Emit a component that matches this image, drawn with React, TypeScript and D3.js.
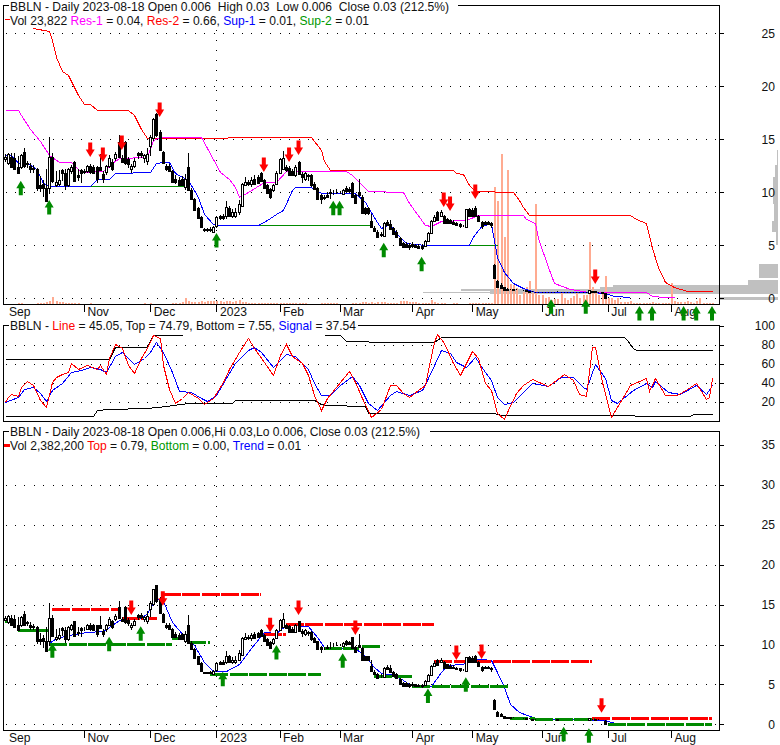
import * as d3 from "d3";

const dayCount = 225;
const monthLabels = ["Nov", "Dec", "2023", "Feb", "Mar", "Apr", "May", "Jun", "Jul", "Aug"];
const monthDays = [25, 46, 67, 87, 106, 129, 148, 170, 191, 211];
const priceTicks = [0, 5, 10, 15, 20, 25];
const lowerTicks = [0, 5, 10, 15, 20, 25, 30, 35];
const oscTicks = [20, 40, 60, 80, 100];

const opens = [
  13.1, 12.8, 13.3, 13.2, 12.4, 12.4, 13.8, 12.8, 12.5, 12.3,
  12.2, 10.7, 10.8, 10.4, 10.4, 13.3, 10.7, 10.8, 12.1, 11.8,
  10.7, 12.0, 12.9, 11.6, 12.1, 12.0, 12.0, 12.5, 12.4, 12.4,
  12.4, 11.7, 11.9, 12.5, 12.9, 13.2, 14.7, 13.2, 14.7, 13.1,
  12.2, 12.5, 13.7, 13.7, 13.2, 13.0, 14.4, 15.1, 17.4, 15.7,
  13.8, 12.5, 12.5, 12.0, 11.3, 11.2, 11.3, 10.5, 12.4, 10.2,
  9.4, 8.5, 7.7, 6.5, 6.5, 6.5, 6.3, 6.8, 7.8, 7.8,
  7.8, 8.5, 7.8, 7.8, 8.1, 8.7, 10.7, 11.0, 10.8, 11.3,
  11.4, 11.8, 11.2, 10.7, 10.3, 10.2, 10.8, 11.8, 12.2, 12.4,
  12.3, 12.0, 11.6, 12.9, 11.7, 11.3, 11.5, 11.6, 10.8, 10.4,
  9.7, 9.6, 9.7, 10.0, 9.9, 9.95, 9.9, 9.8, 10.4, 10.3,
  10.9, 9.7, 10.0, 9.6, 8.5, 8.5, 7.3, 6.6, 6.3, 6.0,
  5.9, 7.2, 7.0, 6.6, 6.3, 5.7, 5.2, 5.15, 5.0, 5.1,
  5.0, 4.95, 4.95, 4.95, 5.4, 6.2, 7.3, 8.1, 7.8, 7.8,
  7.5, 7.35, 7.2, 7.1, 7.0, 6.85, 6.7, 8.4, 8.3, 8.5,
  7.8, 7.2, 7.2, 7.2, 7.1, 3.1, 1.6, 1.3, 1.07, 0.9,
  0.87, 0.84, 0.82, 0.8, 0.77, 0.74, 0.7, 0.64, 0.6, 0.58,
  0.57, 0.56, 0.56, 0.56, 0.57, 0.62, 0.57, 0.56, 0.56, 0.56,
  0.56, 0.56, 0.56, 0.57, 0.56, 0.5, 0.68, 0.65, 0.6, 0.55,
  0.47, 0.1, 0.05, 0.05, 0.05, 0.05, 0.04, 0.04, 0.04, 0.04,
  0.04, 0.04, 0.04, 0.04, 0.04, 0.04, 0.04, 0.04, 0.04, 0.04,
  0.03, 0.03, 0.03, 0.03, 0.03, 0.03, 0.03, 0.03, 0.03, 0.03,
  0.03, 0.03, 0.03, 0.03, 0.006,
];
const highs = [
  13.6, 13.7, 13.7, 13.7, 13.4, 13.6, 14.2, 13.0, 12.8, 12.6,
  12.3, 11.5, 11.2, 12.2, 15.2, 13.7, 12.0, 12.1, 12.2, 12.2,
  12.3, 12.6, 13.0, 12.2, 12.2, 12.2, 12.6, 12.7, 12.6, 12.5,
  13.6, 12.0, 12.6, 13.5, 13.1, 13.8, 15.4, 13.5, 14.8, 13.3,
  12.7, 13.2, 13.8, 13.9, 13.6, 14.2, 15.4, 17.0, 17.5, 15.9,
  13.9, 12.7, 12.7, 12.1, 11.6, 11.4, 11.5, 11.7, 13.7, 10.4,
  9.5, 8.6, 7.8, 6.6, 6.6, 6.7, 6.8, 7.8, 7.9, 8.0,
  9.2, 8.7, 8.4, 8.5, 9.3, 10.9, 11.4, 11.2, 11.4, 11.6,
  11.6, 11.9, 11.3, 10.8, 10.4, 10.8, 12.0, 13.2, 13.9, 12.6,
  12.5, 12.2, 12.6, 13.0, 11.9, 11.9, 11.7, 11.7, 11.0, 10.5,
  9.8, 9.7, 9.9, 10.3, 10.2, 10.3, 10.1, 10.3, 10.6, 10.5,
  11.0, 9.8, 11.3, 9.7, 8.6, 8.6, 8.0, 6.8, 6.4, 6.3,
  7.2, 7.4, 7.4, 6.7, 6.4, 5.8, 5.3, 5.3, 5.2, 5.3,
  5.1, 5.1, 5.1, 5.5, 6.3, 7.4, 7.9, 8.2, 8.3, 7.9,
  7.6, 7.5, 7.4, 7.2, 7.1, 6.9, 8.4, 8.5, 8.5, 8.7,
  7.9, 7.3, 7.3, 7.3, 7.2, 3.2, 1.7, 1.4, 1.1, 0.95,
  0.9, 0.87, 0.85, 0.83, 0.8, 0.77, 0.73, 0.67, 0.63, 0.6,
  0.59, 0.58, 0.58, 0.58, 0.6, 0.65, 0.6, 0.58, 0.58, 0.58,
  0.58, 0.58, 0.58, 0.6, 0.58, 0.78, 0.7, 0.67, 0.62, 0.57,
  0.5, 0.12, 0.07, 0.07, 0.07, 0.07, 0.06, 0.06, 0.06, 0.06,
  0.06, 0.06, 0.06, 0.06, 0.06, 0.06, 0.06, 0.06, 0.06, 0.06,
  0.05, 0.05, 0.05, 0.05, 0.05, 0.05, 0.05, 0.05, 0.05, 0.05,
  0.05, 0.05, 0.05, 0.05, 0.03,
];
const lows = [
  12.9, 12.6, 12.3, 12.1, 11.7, 12.2, 12.3, 12.3, 11.8, 11.8,
  10.1, 10.0, 9.6, 9.2, 9.8, 10.9, 10.5, 10.6, 11.1, 10.2,
  10.5, 11.7, 11.0, 11.1, 10.9, 11.7, 11.8, 11.7, 11.7, 10.9,
  12.0, 10.9, 11.6, 12.3, 12.0, 13.0, 13.2, 12.8, 12.6, 12.3,
  11.8, 12.3, 13.1, 13.2, 12.8, 12.6, 13.4, 14.8, 15.2, 13.9,
  12.7, 12.0, 11.9, 10.9, 10.8, 10.6, 10.6, 10.2, 10.1, 9.3,
  8.2, 7.5, 6.6, 6.3, 6.3, 6.3, 6.2, 6.6, 7.4, 7.4,
  7.5, 7.7, 7.6, 7.6, 7.9, 8.6, 10.6, 10.6, 10.5, 10.7,
  10.8, 11.0, 10.3, 9.8, 9.4, 10.0, 10.7, 11.7, 12.1, 11.9,
  11.5, 11.5, 11.4, 11.6, 10.9, 11.1, 11.1, 10.5, 10.2, 9.3,
  8.9, 9.3, 9.5, 9.4, 9.7, 9.8, 9.8, 9.7, 10.0, 9.9,
  9.5, 8.9, 9.6, 8.0, 7.9, 7.9, 6.6, 6.3, 5.7, 5.8,
  5.8, 6.8, 6.4, 6.0, 5.7, 5.0, 4.8, 4.7, 4.6, 4.7,
  4.7, 4.7, 4.6, 4.8, 5.3, 6.1, 7.2, 7.3, 7.7, 7.0,
  7.0, 7.0, 6.9, 6.8, 6.6, 6.7, 6.6, 7.7, 7.7, 7.7,
  7.2, 6.5, 6.9, 6.9, 6.6, 1.8, 1.0, 0.95, 0.75, 0.7,
  0.8, 0.78, 0.76, 0.74, 0.71, 0.68, 0.62, 0.56, 0.54, 0.52,
  0.52, 0.52, 0.52, 0.52, 0.53, 0.58, 0.53, 0.52, 0.52, 0.52,
  0.52, 0.52, 0.52, 0.53, 0.52, 0.48, 0.6, 0.58, 0.53, 0.48,
  0.0, 0.06, 0.01, 0.01, 0.01, 0.01, 0.01, 0.01, 0.01, 0.01,
  0.01, 0.01, 0.01, 0.01, 0.01, 0.01, 0.01, 0.01, 0.01, 0.01,
  0.01, 0.01, 0.01, 0.01, 0.01, 0.01, 0.01, 0.01, 0.01, 0.01,
  0.01, 0.01, 0.01, 0.01, 0.006,
];
const closes = [
  13.3, 13.6, 12.4, 12.2, 11.8, 13.5, 12.5, 12.7, 12.2, 12.2,
  10.4, 10.4, 10.4, 9.2, 13.3, 11.1, 11.0, 11.2, 11.8, 10.7,
  12.2, 12.4, 11.1, 11.4, 11.8, 11.9, 12.5, 11.9, 11.8, 11.3,
  12.1, 11.3, 12.5, 13.2, 12.2, 13.6, 13.3, 12.9, 12.8, 12.7,
  12.5, 13.0, 13.5, 13.5, 13.5, 13.6, 15.2, 16.9, 15.4, 14.0,
  12.8, 12.2, 12.0, 11.0, 11.0, 10.7, 10.7, 11.3, 10.2, 9.4,
  8.3, 7.6, 6.7, 6.4, 6.4, 6.4, 6.7, 7.7, 7.6, 7.6,
  8.6, 7.8, 8.1, 8.1, 8.9, 10.8, 11.0, 10.8, 11.2, 10.8,
  10.9, 11.1, 10.4, 9.9, 9.6, 10.7, 11.8, 13.1, 13.2, 12.1,
  11.6, 11.6, 12.4, 11.7, 11.4, 11.8, 11.6, 10.7, 10.3, 9.4,
  9.4, 9.5, 9.6, 9.9, 9.95, 9.9, 9.95, 10.2, 10.1, 10.1,
  9.6, 9.0, 9.7, 8.05, 8.05, 8.05, 6.7, 6.35, 5.8, 6.1,
  7.1, 6.9, 6.5, 6.1, 5.8, 5.05, 4.85, 4.8, 4.85, 4.95,
  4.85, 4.75, 4.75, 5.4, 6.2, 7.3, 7.7, 7.4, 8.1, 7.1,
  7.1, 7.1, 7.05, 6.9, 6.8, 6.8, 8.4, 7.8, 7.8, 7.8,
  7.3, 6.8, 7.0, 7.0, 6.95, 1.9, 1.07, 1.0, 0.8, 0.75,
  0.84, 0.82, 0.8, 0.77, 0.74, 0.7, 0.64, 0.6, 0.58, 0.56,
  0.56, 0.55, 0.55, 0.55, 0.55, 0.6, 0.55, 0.55, 0.55, 0.55,
  0.55, 0.55, 0.55, 0.55, 0.55, 0.75, 0.62, 0.6, 0.55, 0.5,
  0.02, 0.08, 0.04, 0.04, 0.04, 0.04, 0.03, 0.03, 0.03, 0.03,
  0.03, 0.03, 0.03, 0.03, 0.03, 0.03, 0.03, 0.03, 0.03, 0.03,
  0.03, 0.03, 0.03, 0.03, 0.03, 0.03, 0.03, 0.03, 0.03, 0.03,
  0.03, 0.03, 0.03, 0.03, 0.03,
];
const volumes = [
  0, 0, 0, 0, 1, 1, 0, 0, 0, 0,
  1, 1, 1, 2, 3, 7, 3, 2, 2, 1,
  1, 1, 1, 1, 0, 0, 0, 1, 0, 0,
  0, 0, 0, 0, 0, 0, 0, 0, 0, 0,
  0, 0, 0, 0, 1, 0, 1, 0, 0, 0,
  0, 0, 0, 1, 1, 1, 2, 6, 3, 2,
  2, 2, 3, 2, 3, 3, 3, 3, 3, 2,
  3, 3, 2, 3, 4, 2, 2, 1, 1, 1,
  1, 1, 1, 1, 1, 1, 1, 1, 1, 1,
  1, 1, 1, 1, 1, 1, 0, 0, 0, 0,
  1, 1, 1, 1, 1, 1, 0, 0, 0, 0,
  1, 1, 1, 2, 2, 1, 2, 1, 2, 2,
  2, 1, 1, 1, 1, 3, 3, 3, 2, 2,
  2, 1, 1, 1, 1, 4, 2, 1, 1, 1,
  0, 0, 1, 1, 0, 0, 0, 1, 1, 1,
  1, 1, 1, 1, 1, 117, 103, 150, 67, 134,
  20, 19, 16, 9, 12, 17, 23, 11, 100, 9,
  9, 6, 7, 4, 5, 5, 11, 6, 4, 6,
  8, 11, 6, 9, 9, 62, 17, 11, 9, 12,
  28, 6, 6, 4, 6, 2, 2, 2, 3, 1,
  1, 1, 1, 1, 1, 2, 1, 1, 1, 1,
  1, 21, 3, 2, 2, 2, 3, 2, 1, 3,
  6, 1, 1, 1, 1,
];

const res2Days = [9, 14, 15, 16, 18, 20, 23, 25, 27, 29, 39, 41, 43, 45, 97, 100, 101, 103, 142, 143, 145, 147, 149, 161, 163, 164, 166, 198, 200, 203, 205, 207, 209, 212, 216, 224];
const res2Values = [25.5, 25.2, 24.4, 22.8, 21.4, 21.1, 19.2, 18.3, 18.3, 17.8, 17.8, 17.3, 16, 15.15, 15.2, 14, 13, 12.1, 12.1, 11.85, 11.7, 10.7, 10.1, 10.05, 9.3, 8.6, 7.9, 7.9, 7.45, 7.07, 4.7, 3, 1.57, 1.1, 0.69, 0.69];
const res1Days = [0, 4, 5, 8, 11, 14, 17, 21, 24, 31, 34, 36, 45, 47, 49, 62, 64, 68, 71, 73, 74, 77, 82, 86, 89, 108, 110, 115, 126, 128, 133, 135, 138, 146, 150, 164, 165, 168, 169, 172, 174, 179, 185, 203, 205, 209, 212];
const res1Values = [17.8, 17.8, 17.3, 16, 14.8, 13.5, 12.85, 12.85, 11.95, 12, 12.75, 13.2, 13.35, 14.9, 15.2, 15.2, 14.2, 11.95, 11.3, 10.5, 9.6, 10.05, 11, 11, 12, 12, 11.6, 10.1, 10.05, 9, 6.9, 6.85, 7.3, 7.4, 7.9, 7.9, 7.45, 7.1, 5.7, 3, 1.47, 0.85, 0.62, 0.62, 0.25, 0.1, 0.1];
const sup1Days = [0, 2, 3, 4, 8, 10, 12, 14, 27, 29, 33, 35, 46, 48, 50, 52, 54, 58, 61, 63, 66, 67, 80, 83, 86, 88, 91, 92, 97, 100, 111, 114, 118, 119, 122, 124, 127, 133, 147, 148, 151, 154, 156, 158, 161, 164, 168, 185, 190, 193, 198];
const sup1Values = [13.5, 13.5, 13.2, 12.75, 12.67, 12.1, 10.85, 10.6, 10.6, 11.3, 11.3, 11.8, 11.9, 12.75, 12.85, 12.85, 11.8, 11.15, 9.6, 8, 7, 6.9, 6.9, 7.4, 8, 8.3, 10.2, 10.5, 10.5, 9.95, 9.95, 9.1, 7.2, 6.65, 7, 6.15, 5.2, 5, 5, 5.7, 6.9, 7, 3.9, 2.5, 1.44, 0.97, 0.62, 0.58, 0.5, 0.25, 0.1];
const sup2Days = [27, 57, 58, 80, 116, 117, 147, 156];
const sup2Values: (number | null)[] = [10.6, 10.6, null, 6.9, 6.9, null, 5, 5];

const redUpperDays = [27, 31, 37, 49, 82, 90, 93, 139, 141, 149, 187];
const redUpperTips = [13.33, 12.86, 13.99, 17.1, 11.92, 12.86, 13.52, 8.61, 8.24, 9.37, 1.35];
const greenUpperDays = [5, 14, 67, 104, 106, 120, 132, 173, 184, 201, 205, 215, 219, 224];
const greenUpperTips = [11.09, 9.27, 6.16, 9.21, 9.21, 5.25, 3.92, -0.09, -0.09, -0.73, -0.73, -0.73, -0.73, -0.73];

const profileTops = [3.24, 1.73, 1.25, 1.06, 0.88, 0.69, 0.59, 0.5, 0.12, 13.99, 12.6, 11.4, 8.9, 7.25, 6.3];
const profileBottoms = [1.92, 1.25, 1.06, 0.88, 0.69, 0.59, 0.5, 0.4, -0.12, 12.6, 11.4, 8.9, 7.25, 6.3, 5.05];
const profileVolumes = [19, 30, 165, 178, 317, 288, 355, 288, 58, 1.5, 3, 5, 4, 6.5, 2];

const lineDays = [0, 1, 2, 4, 5, 7, 9, 11, 13, 15, 16, 18, 20, 21, 23, 26, 29, 30, 32, 33, 35, 37, 39, 41, 43, 45, 47, 49, 50, 52, 54, 56, 58, 61, 63, 66, 69, 71, 74, 77, 79, 82, 85, 87, 89, 91, 94, 96, 98, 100, 102, 106, 109, 111, 113, 116, 119, 122, 124, 126, 128, 131, 133, 134, 136, 137, 139, 142, 144, 146, 148, 150, 152, 154, 156, 158, 159, 162, 164, 167, 172, 177, 180, 182, 184, 186, 187, 189, 192, 195, 198, 203, 204, 206, 209, 213, 216, 219, 222, 223, 224];
const lineValues = [20.4, 25.6, 28, 26, 36, 42, 38, 22, 15, 41, 46, 49.5, 52, 61, 55, 59, 55, 59, 50, 66, 81, 76.5, 59, 51, 66, 76.5, 90.5, 87, 59, 34, 18.6, 24, 31, 24, 17.5, 24, 41, 55, 73, 87, 76.5, 62, 48, 69, 81, 68, 61, 48, 27, 12, 24, 41, 53, 41, 24, 4.6, 13, 38, 38, 30, 25, 33, 38, 54, 83.5, 91.6, 82, 61, 48, 61, 74, 66, 40, 33, 8, 2, 10, 29, 38, 44, 37, 50, 43, 28, 26, 78, 77.5, 41, 4.6, 20, 38, 45, 31.6, 45, 27, 27, 33.7, 40, 23, 25, 45];
const signalDays = [0, 4, 6, 9, 11, 13, 15, 18, 21, 24, 27, 30, 32, 35, 37, 39, 41, 44, 46, 48, 50, 53, 55, 59, 62, 64, 67, 70, 73, 77, 79, 81, 85, 89, 92, 96, 98, 100, 103, 106, 110, 112, 115, 118, 122, 124, 128, 132, 134, 138, 141, 143, 146, 149, 152, 154, 156, 158, 161, 167, 172, 176, 180, 183, 184, 187, 190, 192, 194, 199, 203, 205, 206, 210, 214, 219, 222, 224];
const signalValues = [19.6, 25.6, 33.7, 36, 29, 21, 32.6, 39.6, 52, 54, 56.5, 55, 52, 68, 73, 66, 60, 66, 73, 83, 73, 52, 31.6, 31, 24, 21, 27, 45, 61, 75, 78, 73, 57, 71, 68, 55, 40, 27, 27, 38, 47, 38, 18.6, 11.6, 27, 31.6, 27, 33, 45, 75, 72, 62.5, 56.5, 67, 52, 43, 25.6, 17.5, 20, 40, 37, 46, 46, 36, 33.7, 60, 45, 22, 19, 33, 40, 36, 42.5, 31, 28.4, 38, 28.4, 37.5];
const topDays = [0, 33, 35, 45, 47, 56, 57, 101, 106, 108, 122, 136, 138, 196, 197, 199, 200, 224];
const topValues: (number | null)[] = [65, 65, 78, 78, 90.5, 91, null, 91, 91, 84, 83, 83, 88, 88, 85, 76.5, 75, 74.8];
const bottomDays = [0, 28, 29, 33, 45, 51, 58, 72, 73, 98, 100, 102, 114, 115, 155, 157, 199, 200, 217, 218, 224];
const bottomValues = [5.3, 5.3, 11.6, 12.6, 14, 16, 18.6, 19.3, 22, 22, 17.5, 17, 15.4, 8, 8, 6.3, 6, 5.3, 5.3, 7, 7];

const trendDays = [14, 16, 22, 26, 31, 34, 36, 43, 45, 48, 50, 53, 57, 60, 63, 66, 70, 74, 78, 82, 86, 89, 96, 99, 101, 111, 114, 117, 119, 122, 125, 128, 135, 138, 140, 145, 147, 151, 154, 156, 158, 160, 163, 168, 185, 190, 192, 195];
const trendValues = [10.15, 10.78, 11.28, 11.6, 11.7, 12.45, 13.1, 13.3, 13.9, 15.8, 15.4, 12.86, 11, 9.95, 7.85, 6.7, 6.7, 7.6, 9.5, 11.6, 11.5, 12.5, 12.3, 11, 9.7, 9.5, 8.6, 7.2, 6.4, 6.3, 5.8, 5, 4.85, 6.6, 7.4, 7.5, 8.1, 8.2, 8.1, 6.6, 4.7, 2.6, 1.6, 0.75, 0.55, 0.55, 0.25, 0.1];
const topStarts = [15, 37, 50, 82, 89, 136, 186];
const topEnds = [36, 48, 81, 89, 136, 186, 224];
const topLevels = [14.4, 13.28, 16.3, 11.28, 12.53, 7.85, 0.75];
const bottomStarts = [0, 4, 14, 53, 58, 65, 101, 113, 117, 129, 160, 168, 191];
const bottomEnds = [2, 14, 53, 57, 65, 100, 112, 119, 129, 160, 168, 187, 224];
const bottomLevels = [12.86, 11.73, 10, 10.78, 10.28, 6.27, 9.44, 9.69, 5.97, 4.76, 0.75, 0.55, 0];
const redLowerDays = [40, 50, 84, 93, 111, 143, 151, 189];
const redLowerTips = [13.7, 14.86, 11.53, 13.7, 11.2, 8.06, 8.19, 1.45];
const greenLowerDays = [15, 33, 43, 69, 86, 107, 134, 146, 177, 185];
const greenLowerTips = [10.15, 10.98, 12.3, 6.6, 9.93, 8.9, 4.5, 5.9, -0.3, -0.5];

const RED = "#ff0000";
const GREEN = "#008a00";
const BLUE = "#0000ff";
const MAGENTA = "#ff00ff";
const SALMON = "#ffab91";
const GRAY = "#c0c0c0";
const FONT = "'Liberation Sans', Arial, sans-serif";
const TEXT_SIZE = 12.1;

const x = d3.scaleLinear().domain([0, dayCount - 1]).range([5, 712]);
const yUpper = d3.scaleLinear().domain([0, 25]).range([298.3, 33.3]);
const yOsc = d3.scaleLinear().domain([0, 100]).range([421, 326]);
const yLower = d3.scaleLinear().domain([0, 35]).range([724.3, 445]);
const yVolume = d3.scaleLinear().domain([0, 150]).range([303.5, 153.5]);
const xProfile = d3.scaleLinear().domain([0, 355]).range([778, 423]);

const LEFT = 3.5;
const RIGHT = 719.5;
const snap = (v: number) => Math.round(v) + 0.5;

function Series({ days, values, y, color, width = 1 }: {
  days: number[];
  values: (number | null)[];
  y: d3.ScaleLinear<number, number>;
  color: string;
  width?: number;
}) {
  const path = d3
    .line<number>()
    .defined((_, i) => values[i] != null)
    .x((d) => snap(x(d)))
    .y((_, i) => snap(y(values[i] as number)))(days);
  return <path d={path ?? ""} fill="none" stroke={color} strokeWidth={width} shapeRendering="crispEdges" />;
}

function Candles({ y }: { y: d3.ScaleLinear<number, number> }) {
  return (
    <g shapeRendering="crispEdges">
      {opens.map((open, i) => {
        const cx = snap(x(i));
        const top = Math.round(y(Math.max(open, closes[i]))) + 0.5;
        const bottom = Math.round(y(Math.min(open, closes[i]))) + 0.5;
        const black = closes[i] < open;
        return (
          <g key={i}>
            <line x1={cx} x2={cx} y1={y(highs[i])} y2={y(lows[i])} stroke="#000" />
            <rect x={cx - 1} y={top} width={2} height={bottom - top} fill={black ? "#000" : "#fff"} stroke="#000" />
          </g>
        );
      })}
    </g>
  );
}

function Arrows({ days, tips, y, color, down }: {
  days: number[];
  tips: number[];
  y: d3.ScaleLinear<number, number>;
  color: string;
  down?: boolean;
}) {
  const dir = down ? -1 : 1;
  return (
    <g fill={color}>
      {days.map((day, i) => {
        const cx = x(day);
        const tip = y(tips[i]);
        const d = `M${cx},${tip}L${cx + 4.5},${tip + 7.5 * dir}L${cx + 2},${tip + 7.5 * dir}L${cx + 2},${tip + 14.5 * dir}L${cx - 2},${tip + 14.5 * dir}L${cx - 2},${tip + 7.5 * dir}L${cx - 4.5},${tip + 7.5 * dir}Z`;
        return <path key={i} d={d} />;
      })}
    </g>
  );
}

function Frame({ top, bottom, y, ticks, grid }: {
  top: number;
  bottom: number;
  y: d3.ScaleLinear<number, number>;
  ticks: number[];
  grid?: boolean;
}) {
  return (
    <g>
      {ticks.map((t) => (
        <g key={t} shapeRendering="crispEdges">
          {t !== 100 && (
            <line x1={LEFT + 2} x2={RIGHT} y1={snap(y(t))} y2={snap(y(t))} stroke="#000" strokeDasharray="1 8.46" />
          )}
          <line x1={RIGHT} x2={RIGHT + 4} y1={snap(y(t))} y2={snap(y(t))} stroke="#000" />
        </g>
      ))}
      {ticks.map((t) => (
        <text key={t} x={775} y={y(t) + 4.2} textAnchor="end" fontSize={TEXT_SIZE} fill="#111">
          {t}
        </text>
      ))}
      {grid && (
        <line x1={snap(x(67))} x2={snap(x(67))} y1={top + 4} y2={bottom} stroke="#000" strokeDasharray="1 9" shapeRendering="crispEdges" />
      )}
      <rect x={LEFT} y={top} width={RIGHT - LEFT} height={bottom - top} fill="none" stroke="#000" shapeRendering="crispEdges" />
    </g>
  );
}

function MonthAxis({ bottom }: { bottom: number }) {
  return (
    <g>
      <text x={9} y={bottom + 12} fontSize={TEXT_SIZE} fill="#111">Sep</text>
      {monthLabels.map((label, i) => (
        <g key={label}>
          <line x1={snap(x(monthDays[i]))} x2={snap(x(monthDays[i]))} y1={bottom} y2={bottom + 8} stroke="#000" shapeRendering="crispEdges" />
          <text x={x(monthDays[i]) + 3.5} y={bottom + 12} fontSize={TEXT_SIZE} fill="#111">{label}</text>
        </g>
      ))}
    </g>
  );
}

function Title({ y, width, children }: { y: number; width: number; children: React.ReactNode }) {
  return (
    <g>
      <rect x={9} y={y - 11} width={width} height={14} fill="#fff" />
      <text x={10} y={y} fontSize={TEXT_SIZE} fill="#111" style={{ whiteSpace: "pre" }}>{children}</text>
    </g>
  );
}

function Level({ starts, ends, levels, color }: { starts: number[]; ends: number[]; levels: number[]; color: string }) {
  return (
    <g stroke={color} strokeWidth={3} strokeDasharray="18 1.5" shapeRendering="crispEdges">
      {starts.map((s, i) => (
        <line key={i} x1={x(s)} x2={x(ends[i])} y1={yLower(levels[i])} y2={yLower(levels[i])} />
      ))}
    </g>
  );
}

export default function App() {
  return (
    <svg width={780} height={745} style={{ position: "absolute", left: 0, top: 0, display: "block", background: "#fff", fontFamily: FONT }}>
      {/* top panel */}
      <g fill={GRAY} shapeRendering="crispEdges">
        {profileVolumes.map((v, i) => (
          <rect key={i} x={xProfile(v)} width={778 - xProfile(v)} y={yUpper(profileTops[i])} height={yUpper(profileBottoms[i]) - yUpper(profileTops[i])} />
        ))}
      </g>
      <Frame top={5.5} bottom={304.5} y={yUpper} ticks={priceTicks} grid />
      <g fill={SALMON} shapeRendering="crispEdges">
        {volumes.map((v, i) => (
          <rect key={i} x={Math.round(x(i)) - 0.5} width={2} y={yVolume(v)} height={303.5 - yVolume(v)} />
        ))}
      </g>
      <Series days={res2Days} values={res2Values} y={yUpper} color={RED} />
      <Series days={res1Days} values={res1Values} y={yUpper} color={MAGENTA} />
      <Series days={sup2Days} values={sup2Values} y={yUpper} color={GREEN} />
      <Series days={sup1Days} values={sup1Values} y={yUpper} color={BLUE} />
      <Candles y={yUpper} />
      <MonthAxis bottom={304} />
      <Arrows days={redUpperDays} tips={redUpperTips} y={yUpper} color={RED} down />
      <Arrows days={greenUpperDays} tips={greenUpperTips} y={yUpper} color={GREEN} />
      <Title y={11} width={449}>BBLN - Daily 2023-08-18 Open 0.006  High 0.03  Low 0.006  Close 0.03 (212.5%)</Title>
      <Title y={24.5} width={362}>
        Vol 23,822 <tspan fill={MAGENTA}>Res-1</tspan> = 0.04, <tspan fill={RED}>Res-2</tspan> = 0.66, <tspan fill={BLUE}>Sup-1</tspan> = 0.01, <tspan fill="#009900">Sup-2</tspan> = 0.01
      </Title>
      <line x1={5} x2={10} y1={19.5} y2={19.5} stroke={RED} shapeRendering="crispEdges" />

      {/* middle panel */}
      <Frame top={325.5} bottom={421.5} y={yOsc} ticks={oscTicks} />
      <Series days={topDays} values={topValues} y={yOsc} color="#000" />
      <Series days={bottomDays} values={bottomValues} y={yOsc} color="#000" />
      <Series days={signalDays} values={signalValues} y={yOsc} color={BLUE} />
      <Series days={lineDays} values={lineValues} y={yOsc} color={RED} />
      <Title y={330} width={349}>
        BBLN - <tspan fill={RED}>Line</tspan> = 45.05, Top = 74.79, Bottom = 7.55, <tspan fill={BLUE}>Signal</tspan> = 37.54
      </Title>

      {/* bottom panel */}
      <Frame top={431.5} bottom={730.5} y={yLower} ticks={lowerTicks} grid />
      <Series days={trendDays} values={trendValues} y={yLower} color={BLUE} />
      <Level starts={topStarts} ends={topEnds} levels={topLevels} color={RED} />
      <Level starts={bottomStarts} ends={bottomEnds} levels={bottomLevels} color={GREEN} />
      <Candles y={yLower} />
      <MonthAxis bottom={730} />
      <Arrows days={redLowerDays} tips={redLowerTips} y={yLower} color={RED} down />
      <Arrows days={greenLowerDays} tips={greenLowerTips} y={yLower} color={GREEN} />
      <Title y={436} width={421}>BBLN - Daily 2023-08-18 Open 0.006,Hi 0.03,Lo 0.006, Close 0.03 (212.5%)</Title>
      <Title y={450} width={296}>
        Vol 2,382,200 <tspan fill={RED}>Top</tspan> = 0.79, <tspan fill="#009900">Bottom</tspan> = 0.00, <tspan fill={BLUE}>Trend</tspan> = 0.01
      </Title>
      <line x1={4} x2={10} y1={445.5} y2={445.5} stroke={RED} strokeWidth={2.5} shapeRendering="crispEdges" />
    </svg>
  );
}
